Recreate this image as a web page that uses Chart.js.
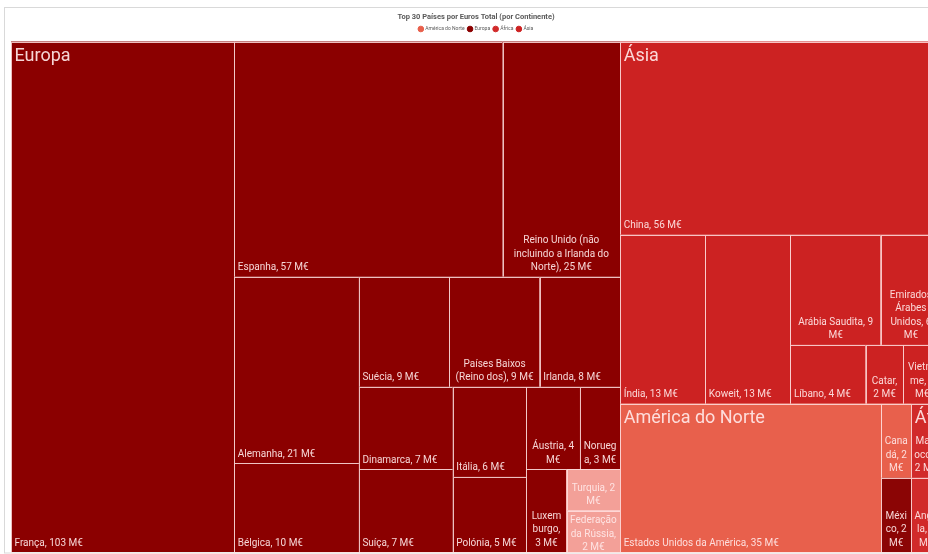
<!DOCTYPE html>
<html lang="pt">
<head>
<meta charset="UTF-8">
<title>Top 30 Países por Euros Total (por Continente)</title>
<script src="https://cdn.jsdelivr.net/npm/chart.js@4.4.0/dist/chart.umd.min.js"></script>
<style>
  html, body { margin: 0; padding: 0; background: #fff; overflow: hidden; }
  #wrap { position: relative; width: 942px; height: 554px; }
</style>
</head>
<body>
<div id="wrap"><canvas id="treemap"></canvas></div>
<script>
// Valores em milhões de euros (M€)
const europaPaises = ['França', 'Espanha', 'Reino Unido (não incluindo a Irlanda do Norte)', 'Alemanha', 'Bélgica',
    'Suécia', 'Países Baixos (Reino dos)', 'Irlanda', 'Dinamarca', 'Suíça', 'Itália', 'Polónia', 'Áustria',
    'Noruega', 'Luxemburgo', 'Turquia', 'Federação da Rússia'];
const europaValores = [103, 57, 25, 21, 10, 9, 9, 8, 7, 7, 6, 5, 4, 3, 3, 2, 2];

const asiaPaises = ['China', 'Índia', 'Koweit', 'Arábia Saudita', 'Emirados Árabes Unidos', 'Líbano', 'Catar', 'Vietname'];
const asiaValores = [56, 13, 13, 9, 6, 4, 2, 2];

const americaPaises = ['Estados Unidos da América', 'Canadá', 'México'];
const americaValores = [35, 2, 2];

const africaPaises = ['Marrocos', 'Angola'];
const africaValores = [2, 2];

// quantos países entram em cada faixa do treemap (agrupamento igual ao do Excel)
const europaFaixas = [1, 2, 2, 3, 2, 2, 2, 1, 1, 1];
const asiaFaixas = [1, 1, 1, 2, 1, 1, 1];
const americaFaixas = [1, 1, 1];
const africaFaixas = [1, 1];

// cores
const cores = {
    'América do Norte': '#e8604c',
    'Europa': '#8b0000',
    'África': '#d12a2a',
    'Ásia': '#cc2222'
};
const coresEspeciais = { 'Turquia': '#f3a098', 'Federação da Rússia': '#f3a098', 'México': '#8b0505' };
const corTexto = 'rgba(255, 232, 232, 0.92)';
const corBorda = 'rgba(255, 225, 225, 0.85)';
const fonte = 'Roboto, "Open Sans", sans-serif';

const soma = arr => arr.reduce((a, b) => a + b, 0);

// divide o retângulo em faixas; cada faixa fica ao longo do lado mais curto
function layoutFaixas(valores, faixas, r, kx, ky) {
    const out = [];
    let rem = { ...r };
    let restante = soma(valores);
    let i = 0;
    for (const n of faixas) {
        const grupo = valores.slice(i, i + n);
        const s = soma(grupo);
        const frac = s / restante;
        if (rem.w * kx >= rem.h * ky) {
            const w = rem.w * frac;
            let yy = rem.y;
            grupo.forEach(v => {
                const h = rem.h * v / s;
                out.push({ x: rem.x, y: yy, w: w, h: h });
                yy += h;
            });
            rem = { x: rem.x + w, y: rem.y, w: rem.w - w, h: rem.h };
        } else {
            const h = rem.h * frac;
            let xx = rem.x;
            grupo.forEach(v => {
                const w = rem.w * v / s;
                out.push({ x: xx, y: rem.y, w: w, h: h });
                xx += w;
            });
            rem = { x: rem.x, y: rem.y + h, w: rem.w, h: rem.h - h };
        }
        restante -= s;
        i += n;
    }
    return out;
}

// quebra o texto por palavras e, se preciso, por letras
function quebrar(ctx, texto, maxW) {
    const palavras = texto.split(' ');
    const linhas = [];
    let linha = '';
    palavras.forEach(p => {
        const teste = linha ? linha + ' ' + p : p;
        if (ctx.measureText(teste).width <= maxW) {
            linha = teste;
            return;
        }
        if (linha) linhas.push(linha);
        linha = p;
        while (ctx.measureText(linha).width > maxW && linha.length > 1) {
            let k = linha.length - 1;
            while (k > 1 && ctx.measureText(linha.slice(0, k)).width > maxW) k--;
            linhas.push(linha.slice(0, k));
            linha = linha.slice(k);
        }
    });
    if (linha) linhas.push(linha);
    return linhas;
}

function desenharRotulo(ctx, texto, L, T, W, H) {
    ctx.save();
    ctx.beginPath();
    ctx.rect(L, T, W, H);
    ctx.clip();
    ctx.font = '10px ' + fonte;
    ctx.fillStyle = corTexto;
    ctx.textBaseline = 'middle';
    const linhas = quebrar(ctx, texto, W - 6);
    const lh = 13.5;
    const n = linhas.length;
    let cy = (n * lh + 4 > H) ? T + 10 : T + H - 9 - (n - 1) * lh;
    linhas.forEach(l => {
        if (n === 1) {
            ctx.textAlign = 'left';
            ctx.fillText(l, L + 3.5, cy);
        } else {
            ctx.textAlign = 'center';
            ctx.fillText(l, L + W / 2, cy);
        }
        cy += lh;
    });
    ctx.restore();
}

const treemapPlugin = {
    id: 'treemap',
    beforeDraw(chart) {
        const ctx = chart.ctx;
        ctx.save();
        ctx.strokeStyle = '#d9d9d9';
        ctx.lineWidth = 1;
        ctx.strokeRect(4.5, 7.5, chart.width, 545.5);
        ctx.restore();
    },
    afterDatasetsDraw(chart) {
        const { ctx } = chart;
        const xs = chart.scales.x, ys = chart.scales.y;
        const kx = Math.abs(xs.getPixelForValue(1) - xs.getPixelForValue(0));
        const ky = Math.abs(ys.getPixelForValue(1) - ys.getPixelForValue(0));
        const px = r => {
            const L = xs.getPixelForValue(r.x), R = xs.getPixelForValue(r.x + r.w);
            const T = ys.getPixelForValue(r.y), B = ys.getPixelForValue(r.y + r.h);
            return { L: L, T: T, W: R - L, H: B - T };
        };

        const grupos = chart.data.datasets
            .map(ds => ({ ds: ds, total: soma(ds.valores) }))
            .sort((a, b) => b.total - a.total);
        const blocos = layoutFaixas(grupos.map(g => g.total), grupos.map(() => 1),
            { x: 0, y: 0, w: 100, h: 100 }, kx, ky);

        const cabecalhos = [];
        ctx.save();
        grupos.forEach((g, gi) => {
            const ds = g.ds;
            const celulas = layoutFaixas(ds.valores, ds.faixas, blocos[gi], kx, ky);
            celulas.forEach((c, i) => {
                const p = px(c);
                const nome = ds.paises[i];
                ctx.fillStyle = coresEspeciais[nome] || ds.backgroundColor;
                ctx.fillRect(p.L, p.T, p.W, p.H);
                ctx.strokeStyle = corBorda;
                ctx.lineWidth = 1;
                ctx.strokeRect(Math.round(p.L) + 0.5, Math.round(p.T) + 0.5, Math.round(p.W), Math.round(p.H));
                desenharRotulo(ctx, nome + ', ' + ds.valores[i] + ' M€', p.L, p.T, p.W, p.H);
            });
            cabecalhos.push({ nome: ds.label, p: px(blocos[gi]) });
        });

        // nomes dos continentes por cima
        cabecalhos.forEach(c => {
            ctx.save();
            ctx.beginPath();
            ctx.rect(c.p.L, c.p.T, c.p.W, c.p.H);
            ctx.clip();
            ctx.font = '18px ' + fonte;
            ctx.fillStyle = corTexto;
            ctx.textAlign = 'left';
            ctx.textBaseline = 'middle';
            ctx.fillText(c.nome, c.p.L + 3.5, c.p.T + 15);
            ctx.restore();
        });
        ctx.restore();
    }
};

const conjuntos = [
    { label: 'América do Norte', paises: americaPaises, valores: americaValores, faixas: americaFaixas },
    { label: 'Europa', paises: europaPaises, valores: europaValores, faixas: europaFaixas },
    { label: 'África', paises: africaPaises, valores: africaValores, faixas: africaFaixas },
    { label: 'Ásia', paises: asiaPaises, valores: asiaValores, faixas: asiaFaixas }
].map(c => ({
    ...c,
    data: [],
    backgroundColor: cores[c.label],
    borderColor: cores[c.label],
    pointStyle: 'circle'
}));

new Chart(document.getElementById('treemap'), {
    type: 'scatter',
    data: { datasets: conjuntos },
    options: {
        responsive: true,
        maintainAspectRatio: false,
        animation: false,
        layout: { padding: { left: 11, right: 1, top: 0, bottom: 2 } },
        scales: {
            x: { type: 'linear', min: 0, max: 100, display: false },
            y: { type: 'linear', min: 0, max: 100, reverse: true, display: false }
        },
        plugins: {
            title: {
                display: true,
                text: 'Top 30 Países por Euros Total (por Continente)',
                color: '#595959',
                font: { size: 7.5, family: fonte },
                padding: { top: 13, bottom: 1 }
            },
            legend: {
                position: 'top',
                labels: {
                    usePointStyle: true,
                    boxWidth: 4,
                    boxHeight: 4,
                    padding: 3.5,
                    color: '#595959',
                    font: { size: 5, family: fonte }
                }
            },
            tooltip: { enabled: false }
        }
    },
    plugins: [treemapPlugin]
});
</script>
</body>
</html>
